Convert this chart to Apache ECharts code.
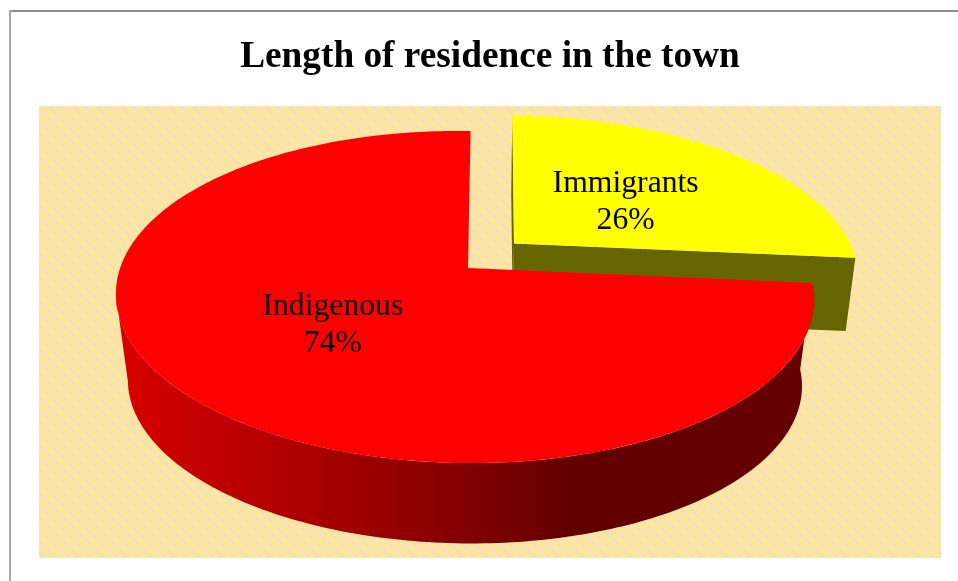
<!DOCTYPE html>
<html>
<head>
<meta charset="utf-8">
<style>html,body{margin:0;padding:0;background:#fff}#chart{width:958px;height:581px}</style>
<script src="https://cdn.jsdelivr.net/npm/echarts@6/dist/echarts.min.js"></script>
</head>
<body>
<div id="chart"></div>
<script>
// Chart content
const chartTitle = 'Length of residence in the town';
const categories = ['Immigrants', 'Indigenous'];
const shares = [26, 74];

// Perspective disc: centre on screen and foreshortening towards the back
const disc = { cx: 468, cy: 268, k: 0.1747, roll: 2 };
const startAngle = 1; // degrees clockwise from the far point of the disc

// Per-slice drawing settings, in the same order as categories
const reachX = [346.6, 343.5];
const reachY = [158.5, 161];
const sideLean = [0, 0.0105];                // shrink towards the right-hand side
const backLean = [0, 3];                     // sideways drift towards the back
const sliceShift = [[0.1364, 0.16], [0, 0]]; // pull-out in disc units (right, away)
const wallDrop = [73, 87];                   // screen height of the rim wall at the centre
const wallScale = [0.975, 0.966];            // shrink of the lower rim
const labelNudge = [[-4, 6], [-0.5, 0.5]];
const topColors = ['#FFFF00', '#FF0000'];
const wallFills = [
  '#666600',
  { type: 'linear', x: 0, y: 0, x2: 1, y2: 0, colorStops: [
    { offset: 0, color: '#D80000' },
    { offset: 0.45, color: '#8C0000' },
    { offset: 0.66, color: '#600000' },
    { offset: 1, color: '#660000' }
  ] }
];

function project(i, u, v, scale, drop) {
  const w = 1 + disc.k * v + sideLean[i] * u;
  return [
    disc.cx + scale * (reachX[i] * u - backLean[i] * v) / w,
    disc.cy + drop + scale * (disc.roll * u - reachY[i] * v) / w
  ];
}
function rimPoint(i, deg, scale, drop) {
  const t = deg * Math.PI / 180;
  return project(i, sliceShift[i][0] + Math.sin(t), sliceShift[i][1] + Math.cos(t), scale, drop);
}
function rimArc(i, from, to, scale, drop) {
  const pts = [];
  const n = Math.max(2, Math.ceil(Math.abs(to - from)));
  for (let j = 0; j <= n; j++) pts.push(rimPoint(i, from + (to - from) * j / n, scale, drop));
  return pts;
}

// Striped plot backdrop tile
function stripeTile() {
  const size = 12;
  const c = document.createElement('canvas');
  c.width = c.height = size;
  const g = c.getContext('2d');
  g.fillStyle = '#FFE699';
  g.fillRect(0, 0, size, size);
  g.fillStyle = '#F1E2BF';
  for (let s = -size; s <= size; s += size) {
    g.beginPath();
    g.moveTo(s, 0);
    g.lineTo(s + 4.5, 0);
    g.lineTo(s + 4.5 + size, size);
    g.lineTo(s + size, size);
    g.closePath();
    g.fill();
  }
  return c;
}

function renderSlice(params, api) {
  const i = params.dataIndex;
  const total = shares.reduce((s, v) => s + v, 0);
  const before = shares.slice(0, i).reduce((s, v) => s + v, 0);
  const from = startAngle + before / total * 360;
  const to = from + api.value(0) / total * 360;
  const s = wallScale[i], d = wallDrop[i];
  const apexTop = project(i, sliceShift[i][0], sliceShift[i][1], 1, 0);
  const apexLow = project(i, sliceShift[i][0], sliceShift[i][1], s, d);
  const children = [];

  // Side walls: the pulled-out slice shows its two cut faces, the large one its curved rim
  if (from < 90) {
    children.push({
      type: 'polygon', silent: true,
      shape: { points: [rimPoint(i, from, 1, 0), rimPoint(i, from, s, d), apexLow, apexTop] },
      style: { fill: wallFills[i] }
    });
    children.push({
      type: 'polygon', silent: true,
      shape: { points: [apexTop, rimPoint(i, to, 1, 0), rimPoint(i, to, s, d), apexLow] },
      style: { fill: wallFills[i] }
    });
  } else {
    const leftLimit = 180 + Math.acos(disc.k) * 180 / Math.PI;
    const wallEnd = Math.min(to, leftLimit);
    const upper = rimArc(i, from, wallEnd, 1, 0);
    const lower = rimArc(i, wallEnd, from, s, d);
    children.push({
      type: 'polygon', silent: true,
      shape: { points: upper.concat(lower) },
      style: { fill: wallFills[i] }
    });
  }

  // Top face
  children.push({
    type: 'polygon', silent: true,
    shape: { points: [apexTop].concat(rimArc(i, from, to, 1, 0)) },
    style: { fill: topColors[i] }
  });

  // Name and share, halfway out along the slice's middle
  const mid = (from + to) / 2 * Math.PI / 180;
  const at = project(i, sliceShift[i][0] + 0.5 * Math.sin(mid), sliceShift[i][1] + 0.5 * Math.cos(mid), 1, 0);
  children.push({
    type: 'text', silent: true,
    style: {
      x: at[0] + labelNudge[i][0], y: at[1] + labelNudge[i][1],
      text: categories[i] + '\n' + api.value(0) + '%',
      align: 'center', verticalAlign: 'middle',
      fontFamily: '"Liberation Serif", "Times New Roman", serif',
      fontSize: 31.7, lineHeight: 37, fill: '#000'
    }
  });
  return { type: 'group', children };
}

const chart = echarts.init(document.getElementById('chart'), null, { renderer: 'canvas' });
chart.setOption({
  animation: false,
  backgroundColor: '#fff',
  title: {
    text: chartTitle, left: 485, top: 34, textAlign: 'center',
    textStyle: { fontFamily: '"Liberation Serif", "Times New Roman", serif', fontWeight: 'bold', fontSize: 37.3, color: '#000' }
  },
  graphic: [
    { type: 'rect', silent: true, shape: { x: 39, y: 106, width: 902, height: 452 }, style: { fill: { image: stripeTile(), repeat: 'repeat' } } },
    { type: 'rect', silent: true, shape: { x: 10, y: 10, width: 948, height: 2 }, style: { fill: '#8E8E8E' } },
    { type: 'rect', silent: true, shape: { x: 9, y: 10, width: 2, height: 571 }, style: { fill: '#A8A8A8' } }
  ],
  series: [{
    type: 'custom',
    coordinateSystem: 'none',
    renderItem: renderSlice,
    data: shares.map((v, i) => ({ name: categories[i], value: [v] }))
  }]
});
</script>
</body>
</html>
